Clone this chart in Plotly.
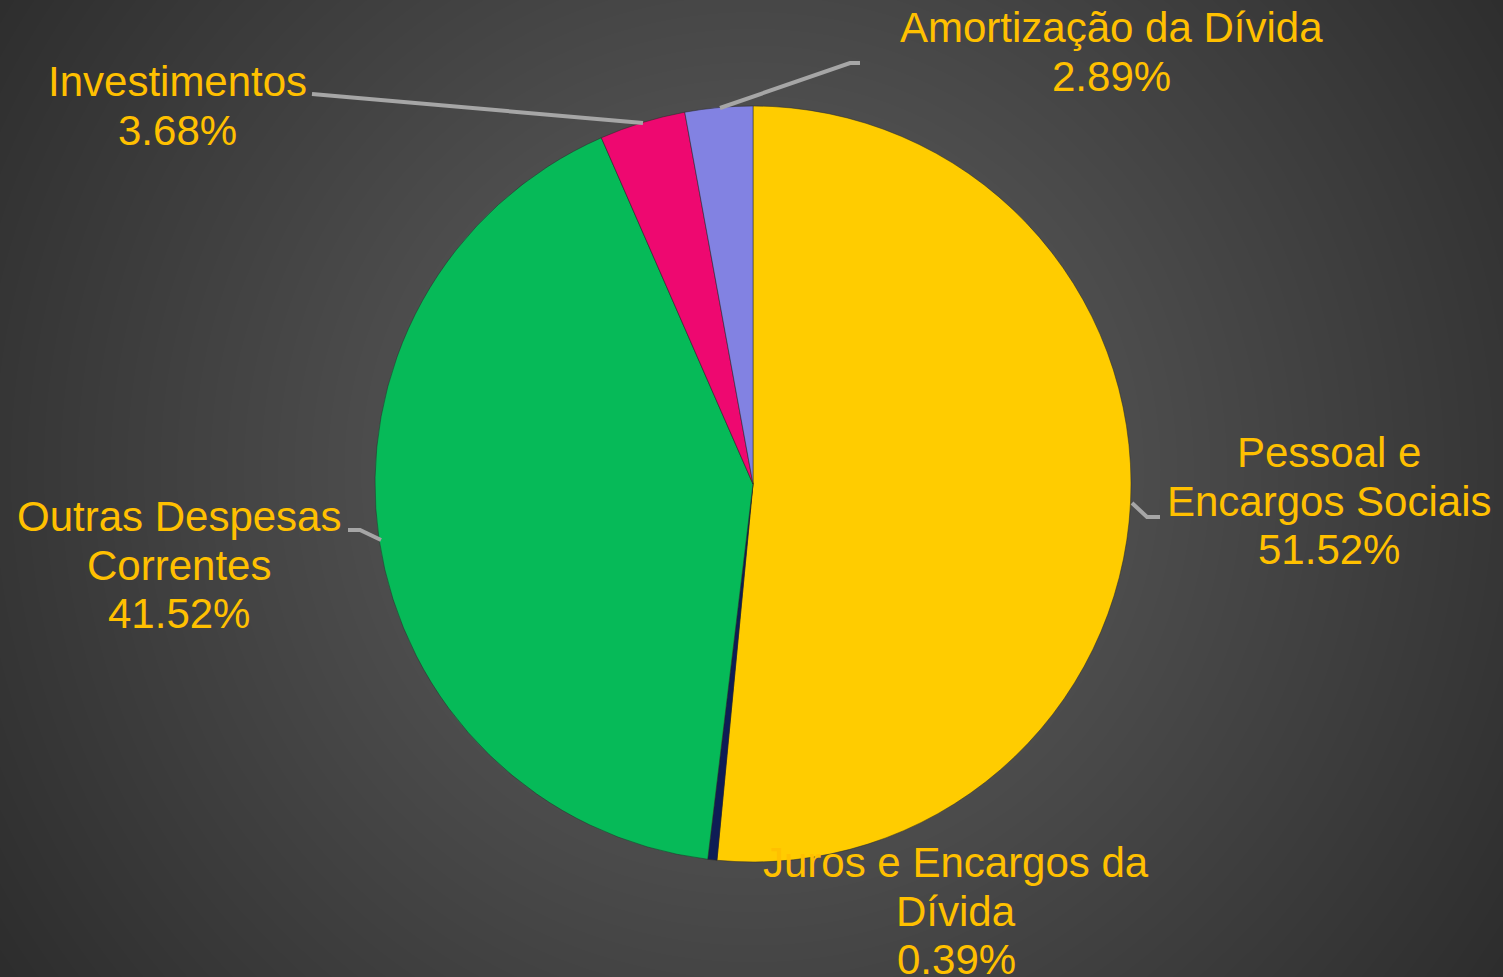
import numpy as np
import plotly.graph_objects as go

# ---- data ----
categories = ["Pessoal e Encargos Sociais", "Juros e Encargos da Dívida",
              "Outras Despesas Correntes", "Investimentos", "Amortização da Dívida"]
label_lines = [["Pessoal e", "Encargos Sociais"], ["Juros e Encargos da", "Dívida"],
               ["Outras Despesas", "Correntes"], ["Investimentos"], ["Amortização da Dívida"]]
values = [51.52, 0.39, 41.52, 3.68, 2.89]
colors = ["#FFCC00", "#0E1C55", "#06BA58", "#EE0870", "#8282E2"]

W, H = 1503, 977
TXT = "#FFC000"
FONT = "Liberation Sans, Arial, sans-serif"
FS = 42
LH = 48.5

# background radial gradient
xs = np.linspace(0, W, 151)
ys = np.linspace(0, H, 99)
X, Y = np.meshgrid(xs, ys)
d = np.sqrt((X - 752) ** 2 + (Y - 470) ** 2)
g = np.clip(99 - 0.06 * d, 44, 92)

fig = go.Figure()
fig.add_trace(go.Heatmap(x=xs, y=ys, z=g, zmin=0, zmax=255, zsmooth="best",
                         colorscale=[[0, "rgb(0,0,0)"], [1, "rgb(255,255,255)"]],
                         showscale=False, hoverinfo="skip"))

cx, cy, r = 753, 484, 378
fig.add_trace(go.Pie(labels=categories, values=values, sort=False, direction="clockwise",
                     rotation=0, marker=dict(colors=colors, line=dict(color="rgba(40,40,40,0.5)", width=1)),
                     textinfo="none", showlegend=False, hoverinfo="label+percent",
                     domain=dict(x=[(cx - r) / W, (cx + r) / W], y=[(H - cy - r) / H, (H - cy + r) / H])))

# label placement (text center x, first baseline y in px)
label_pos = {
    "Pessoal e Encargos Sociais": (1329, 468),
    "Juros e Encargos da Dívida": (956, 878),
    "Outras Despesas Correntes": (179, 532),
    "Investimentos": (177, 97),
    "Amortização da Dívida": (1111, 43),
}
annotations = []
for cat, lines, v in zip(categories, label_lines, values):
    x0, b0 = label_pos[cat]
    allines = lines + [f"{v:.2f}%"]
    for i, t in enumerate(allines):
        annotations.append(dict(x=x0, y=b0 + i * LH - 0.36 * FS, xref="x", yref="y", text=t,
                                showarrow=False, xanchor="center", yanchor="middle",
                                font=dict(family=FONT, size=FS, color=TXT)))

leaders = [
    [(1132, 503), (1147, 517), (1160, 517)],
    [(348, 530), (360, 530), (381, 540)],
    [(312, 94), (643, 123)],
    [(720, 108), (850, 63), (860, 63)],
]
shapes = []
for pts in leaders:
    path = "M " + " L ".join(f"{px},{py}" for px, py in pts)
    shapes.append(dict(type="path", path=path, xref="x", yref="y",
                       line=dict(color="#A6A6A6", width=4), layer="above"))

fig.update_layout(
    width=W, height=H, margin=dict(l=0, r=0, t=0, b=0),
    paper_bgcolor="#3a3a3a", plot_bgcolor="#3a3a3a",
    xaxis=dict(range=[0, W], visible=False, fixedrange=True, domain=[0, 1]),
    yaxis=dict(range=[H, 0], visible=False, fixedrange=True, domain=[0, 1]),
    annotations=annotations, shapes=shapes,
)
fig.write_html("out.html", config={"displayModeBar": False},
               post_script="document.body.style.margin='0';document.body.style.overflow='hidden';")
